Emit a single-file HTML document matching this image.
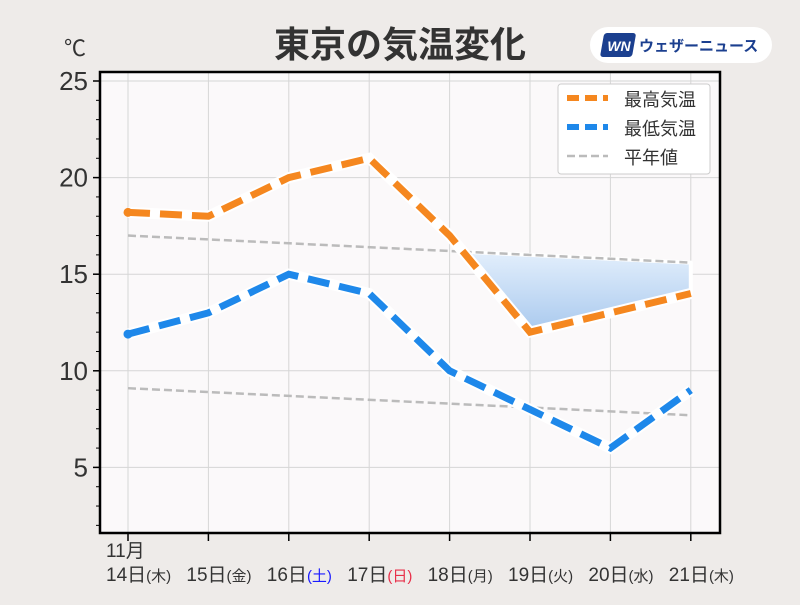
<!DOCTYPE html>
<html><head><meta charset="utf-8"><style>
body{margin:0;width:800px;height:600px;background:#eeebe9;overflow:hidden;font-family:"Liberation Sans","Noto Sans CJK JP",sans-serif}
</style></head><body>
<svg width="800" height="600" xmlns="http://www.w3.org/2000/svg" font-family="Liberation Sans, Noto Sans CJK JP, sans-serif">
<defs><linearGradient id="g" x1="0" y1="0" x2="0" y2="1"><stop offset="0" stop-color="#e3effc"/><stop offset="1" stop-color="#a9c9ee"/></linearGradient></defs>
<text x="400" y="57" text-anchor="middle" font-size="36" font-weight="bold" fill="#333">東京の気温変化</text>
<g>
<rect x="590" y="27" width="182" height="36" rx="18" fill="#fff"/>
<rect x="603" y="33" width="32" height="24" rx="3" fill="#1b3f8f" transform="skewX(-10) translate(7 0)"/>
<text x="619" y="51" text-anchor="middle" font-size="14" font-weight="bold" font-style="italic" fill="#fff">WN</text>
<text x="639" y="51" font-size="15" font-weight="bold" fill="#1b3f8f">ウェザーニュース</text>
</g>
<text x="64" y="56" font-size="22" fill="#333">℃</text>
<rect x="100" y="72" width="620" height="461" fill="#fbf9fa"/>
<g id="grid"></g>
<g id="marks"></g>
<rect x="100" y="72" width="620" height="461" fill="none" stroke="#000" stroke-width="2.5"/>
<g id="axes"></g>
<g>
<rect x="558" y="84" width="152" height="90" fill="#fff" stroke="#ccc" rx="3"/>
<line x1="567" y1="98" x2="608" y2="98" stroke="#f5871f" stroke-width="6" stroke-dasharray="12 6"/>
<text x="624" y="106" font-size="18" fill="#333">最高気温</text>
<line x1="567" y1="127" x2="608" y2="127" stroke="#1e88ea" stroke-width="6" stroke-dasharray="12 6"/>
<text x="624" y="135" font-size="18" fill="#333">最低気温</text>
<line x1="567" y1="156" x2="608" y2="156" stroke="#bbb" stroke-width="2.5" stroke-dasharray="8 4"/>
<text x="624" y="164" font-size="18" fill="#333">平年値</text>
</g>
</svg>
<script>
const days=["14日","15日","16日","17日","18日","19日","20日","21日"];
const weekdays=["(木)","(金)","(土)","(日)","(月)","(火)","(水)","(木)"];
const highs=[18.2,18,20,21,17,12,13,14];
const lows=[11.9,13,15,14,10,8,6,9];
const normalHigh=[17,15.6];
const normalLow=[9.1,7.7];
const yTicks=[5,10,15,20,25];
const NS="http://www.w3.org/2000/svg";
const X=i=>128+i*80.4;
const Y=v=>81+(25-v)*19.32;
function mk(p,t,a){const e=document.createElementNS(NS,t);for(const k in a)e.setAttribute(k,a[k]);document.getElementById(p).appendChild(e);return e;}
yTicks.forEach(v=>{const l=mk('grid','line',{x1:100,x2:720,y1:Y(v),y2:Y(v),stroke:'#d6d6d6'});


mk('axes','line',{x1:93,x2:100,y1:Y(v),y2:Y(v),stroke:'#000','stroke-width':1.5});
const t=mk('axes','text',{x:88,y:Y(v)+9,'text-anchor':'end','font-size':26,fill:'#333'});t.textContent=v;

});
for(let v=2;v<=25;v++)mk('axes','line',{x1:96,x2:100,y1:Y(v),y2:Y(v),stroke:'#000'});
const dcol={"(土)":"#1a1aff","(日)":"#e8304a"};
days.forEach((d,i)=>{const l=mk('grid','line',{x1:X(i),x2:X(i),y1:72,y2:533,stroke:'#d6d6d6'});


mk('axes','line',{x1:X(i),x2:X(i),y1:533,y2:541,stroke:'#000','stroke-width':1.5});
const t=mk('axes','text',{x:X(i)-22,y:581,'font-size':19,fill:'#333'});


t.innerHTML=d+'<tspan font-size="15" fill="'+(dcol[weekdays[i]]||'#333')+'">'+weekdays[i]+'</tspan>';});
const m=mk('axes','text',{x:106,y:557,'font-size':19,fill:'#333'});m.textContent="11月";


const nh=i=>normalHigh[0]+(normalHigh[1]-normalHigh[0])*i/7;
const hi=i=>{const a=Math.floor(i),b=Math.min(a+1,7);return highs[a]+(highs[b]-highs[a])*(i-a);};
const lowerEdge=[];
for(let s=0;s<=700;s++){const i=s/100;if(hi(i)<nh(i))lowerEdge.push([i,hi(i)]);}
const upperEdge=[];
for(let s=700;s>=0;s--){const i=s/100;if(hi(i)<nh(i))upperEdge.push([i,nh(i)]);}
const pts=lowerEdge.concat(upperEdge).map(p=>X(p[0])+','+Y(p[1])).join(' ');
const sh=mk('marks','polygon',{points:pts,fill:'url(#g)',stroke:'#fff','stroke-width':4,'stroke-linejoin':'round'});


[[normalHigh,'normal-high-line'],[normalLow,'normal-low-line']].forEach(([a,n])=>{const l=mk('marks','line',{x1:X(0),x2:X(7),y1:Y(a[0]),y2:Y(a[1]),stroke:'#bbb','stroke-width':2.5,'stroke-dasharray':'8 4'});

});
[[highs,'#f5871f','high-temp-line'],[lows,'#1e88ea','low-temp-line']].forEach(([a,c,n])=>{
const d=a.map((v,i)=>X(i)+','+Y(v)).join(' ');
mk('marks','polyline',{points:d,fill:'none',stroke:'#fff','stroke-width':11});
const l=mk('marks','polyline',{points:d,fill:'none',stroke:c,'stroke-width':7,'stroke-dasharray':'22 10'});


const p=mk('marks','circle',{cx:X(0),cy:Y(a[0]),r:4.5,fill:c});

});
</script>
</body></html>
